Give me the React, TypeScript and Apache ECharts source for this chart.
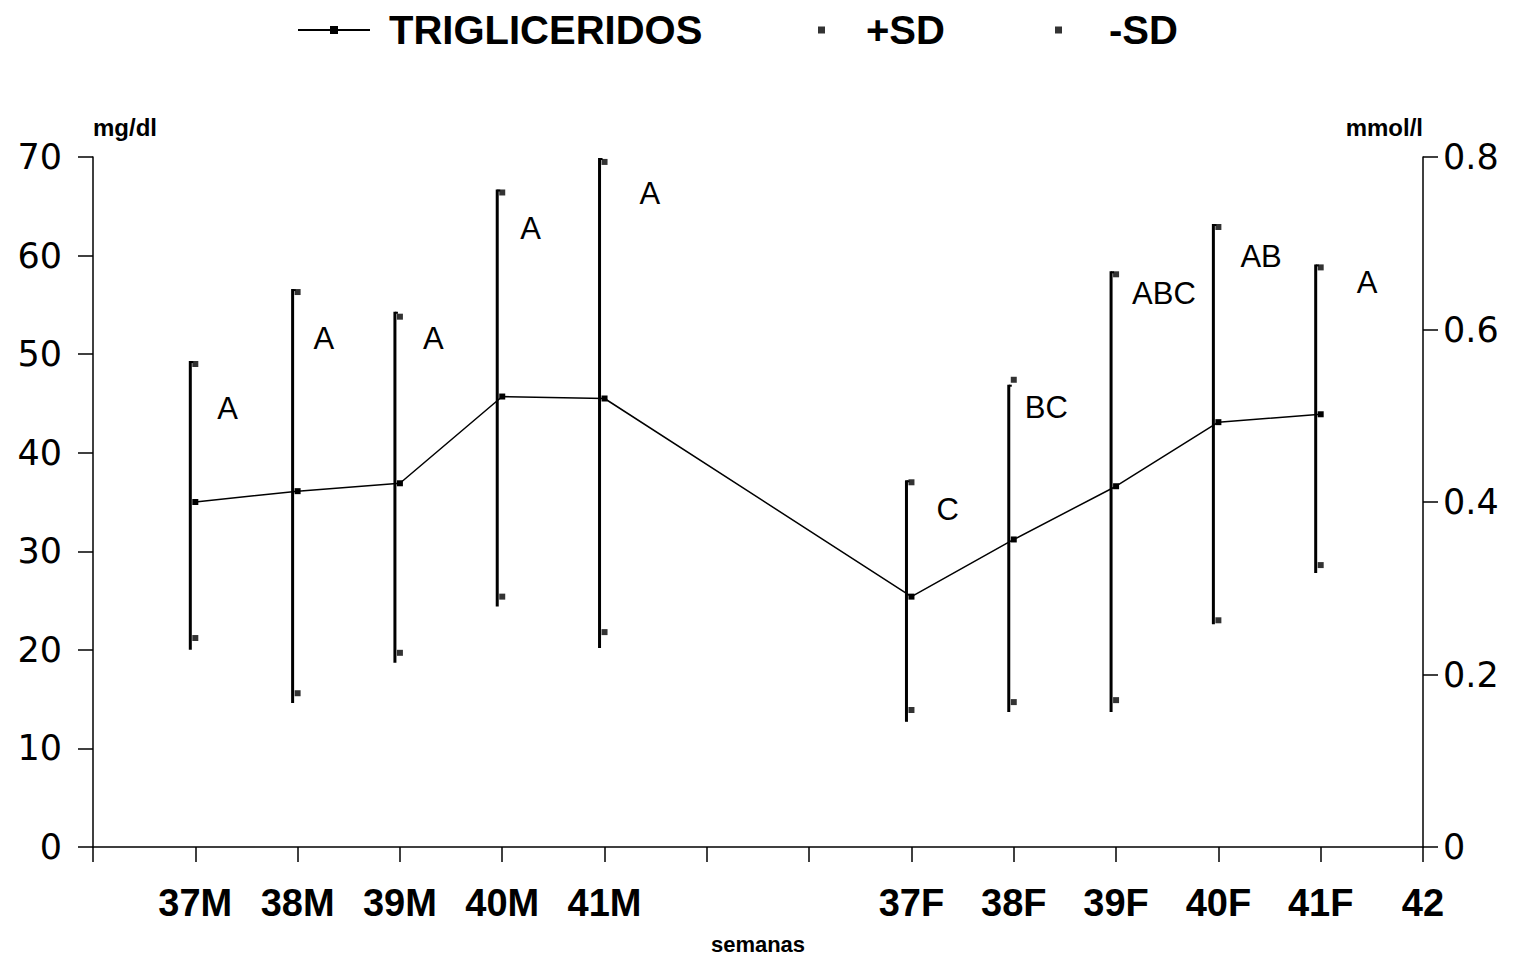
import React, { useEffect, useRef } from "react";
import * as echarts from "echarts";

// ---------- data ----------
const axisSlotLabels = ["", "37M", "38M", "39M", "40M", "41M", "", "", "37F", "38F", "39F", "40F", "41F", "42"];
const groups = ["37M", "38M", "39M", "40M", "41M", "37F", "38F", "39F", "40F", "41F"];
const groupSlot = [1, 2, 3, 4, 5, 8, 9, 10, 11, 12];
const trigliceridos = [35.0, 36.1, 36.9, 45.7, 45.5, 25.4, 31.2, 36.6, 43.1, 43.9];
const plusSD = [49.0, 56.3, 53.8, 66.4, 69.5, 37.0, 47.4, 58.1, 62.9, 58.8];
const minusSD = [21.2, 15.6, 19.7, 25.4, 21.8, 13.9, 14.7, 14.9, 23.0, 28.6];
const barHigh = [49.3, 56.6, 54.3, 66.7, 69.9, 37.2, 46.9, 58.4, 63.2, 59.1];
const barLow = [20.0, 14.6, 18.7, 24.4, 20.2, 12.7, 13.7, 13.7, 22.6, 27.8];
const letters = ["A", "A", "A", "A", "A", "C", "BC", "ABC", "AB", "A"];
const letterLevel = [44.5, 51.6, 51.6, 62.7, 66.3, 34.2, 44.6, 56.2, 59.9, 57.3];
const mgMin = 0, mgMax = 70, mgStep = 10;
const mmolMin = 0, mmolMax = 0.8, mmolStep = 0.2;

// ---------- layout / style ----------
const BAR_DX = -5;
const letterDx = [22, 16, 23, 18, 35, 25, 11, 16, 22, 36];
const INK = "#000";
const SANS = '"Liberation Sans", Arial, sans-serif';
const DJ = '"DejaVu Sans", sans-serif';

export default function App() {
  const ref = useRef<HTMLDivElement>(null);
  useEffect(() => {
    document.body.style.margin = "0";
    const chart = echarts.init(ref.current!, null, { renderer: "svg" });

    const barData = groupSlot.map((s, i) => [s, barHigh[i], barLow[i], i]);
    const letterData = groupSlot.map((s, i) => [s, letterLevel[i], i]);

    const axisCommon = {
      axisLine: { show: true, lineStyle: { color: INK, width: 1.5 } },
      axisTick: { show: true, length: 15, lineStyle: { color: INK, width: 1.5 } },
      splitLine: { show: false },
    };

    const legendText = { fontSize: 40, fontWeight: "bold", fontFamily: SANS, color: INK };

    chart.setOption({
      animation: false,
      backgroundColor: "#fff",
      grid: { left: 93, right: 96, top: 157, bottom: 112, containLabel: false, outerBoundsMode: "none" },
      legend: [
        {
          data: ["TRIGLICERIDOS"],
          left: 292,
          top: 5,
          itemWidth: 72,
          itemHeight: 10,
          textStyle: { ...legendText, padding: [0, 0, 0, 14] },
        },
        {
          data: ["+SD"],
          left: 813,
          top: 5,
          itemWidth: 7,
          itemHeight: 7,
          textStyle: { ...legendText, padding: [0, 0, 0, 36] },
        },
        {
          data: ["-SD"],
          left: 1050,
          top: 5,
          itemWidth: 7,
          itemHeight: 7,
          textStyle: { ...legendText, padding: [0, 0, 0, 42] },
        },
      ],
      xAxis: {
        type: "value",
        min: 0,
        max: axisSlotLabels.length - 1,
        interval: 1,
        name: "semanas",
        nameLocation: "middle",
        nameGap: 86,
        nameTextStyle: { fontSize: 22, fontWeight: "bold", fontFamily: SANS, color: INK },
        ...axisCommon,
        axisLabel: {
          margin: 37,
          fontSize: 38,
          fontWeight: "bold",
          fontFamily: SANS,
          color: INK,
          formatter: (v: number) => axisSlotLabels[Math.round(v)] ?? "",
        },
      },
      yAxis: [
        {
          type: "value",
          position: "left",
          min: mgMin,
          max: mgMax,
          interval: mgStep,
          name: "mg/dl",
          nameLocation: "end",
          nameGap: 18,
          nameTextStyle: { fontSize: 24, fontWeight: "bold", fontFamily: SANS, color: INK, align: "left" },
          ...axisCommon,
          axisLabel: { margin: 31, fontSize: 35, fontFamily: DJ, color: INK },
        },
        {
          type: "value",
          position: "right",
          min: mmolMin,
          max: mmolMax,
          interval: mmolStep,
          name: "mmol/l",
          nameLocation: "end",
          nameGap: 18,
          nameTextStyle: { fontSize: 24, fontWeight: "bold", fontFamily: SANS, color: INK, align: "right" },
          ...axisCommon,
          axisLabel: {
            margin: 20,
            fontSize: 35,
            fontFamily: DJ,
            color: INK,
            formatter: (v: number) => (v === 0 ? "0" : v.toFixed(1)),
          },
        },
      ],
      series: [
        {
          name: "SD range",
          type: "custom",
          data: barData,
          z: 2,
          renderItem: (_p: any, api: any) => {
            const s = api.value(0);
            const top = api.coord([s, api.value(1)]);
            const bot = api.coord([s, api.value(2)]);
            const bx = top[0] + BAR_DX;
            return {
              type: "group",
              children: [
                { type: "line", shape: { x1: bx, y1: top[1], x2: bx, y2: bot[1] }, style: { stroke: INK, lineWidth: 3 } },
                { type: "line", shape: { x1: bx, y1: top[1] + 1, x2: bx + 3, y2: top[1] + 1 }, style: { stroke: INK, lineWidth: 2 } },
              ],
            };
          },
        },
        {
          name: "TRIGLICERIDOS",
          type: "line",
          data: groupSlot.map((s, i) => [s, trigliceridos[i]]),
          symbol: "rect",
          symbolSize: 6,
          lineStyle: { color: INK, width: 1.5 },
          itemStyle: { color: INK },
          z: 3,
        },
        {
          name: "+SD",
          type: "scatter",
          data: groupSlot.map((s, i) => [s, plusSD[i]]),
          symbol: "rect",
          symbolSize: 6,
          itemStyle: { color: INK },
          z: 3,
        },
        {
          name: "-SD",
          type: "scatter",
          data: groupSlot.map((s, i) => [s, minusSD[i]]),
          symbol: "rect",
          symbolSize: 6,
          itemStyle: { color: INK },
          z: 3,
        },
        {
          name: "grupos",
          type: "custom",
          data: letterData,
          z: 4,
          renderItem: (_p: any, api: any) => {
            const idx = api.value(2);
            const pt = api.coord([api.value(0), api.value(1)]);
            return {
              type: "text",
              x: pt[0] + letterDx[idx],
              y: pt[1],
              style: {
                text: letters[idx],
                fontSize: 31,
                fontFamily: SANS,
                fill: INK,
                align: "left",
                verticalAlign: "middle",
              },
            };
          },
        },
      ],
    });
    return () => chart.dispose();
  }, []);
  return <div ref={ref} style={{ width: 1519, height: 959 }} />;
}
